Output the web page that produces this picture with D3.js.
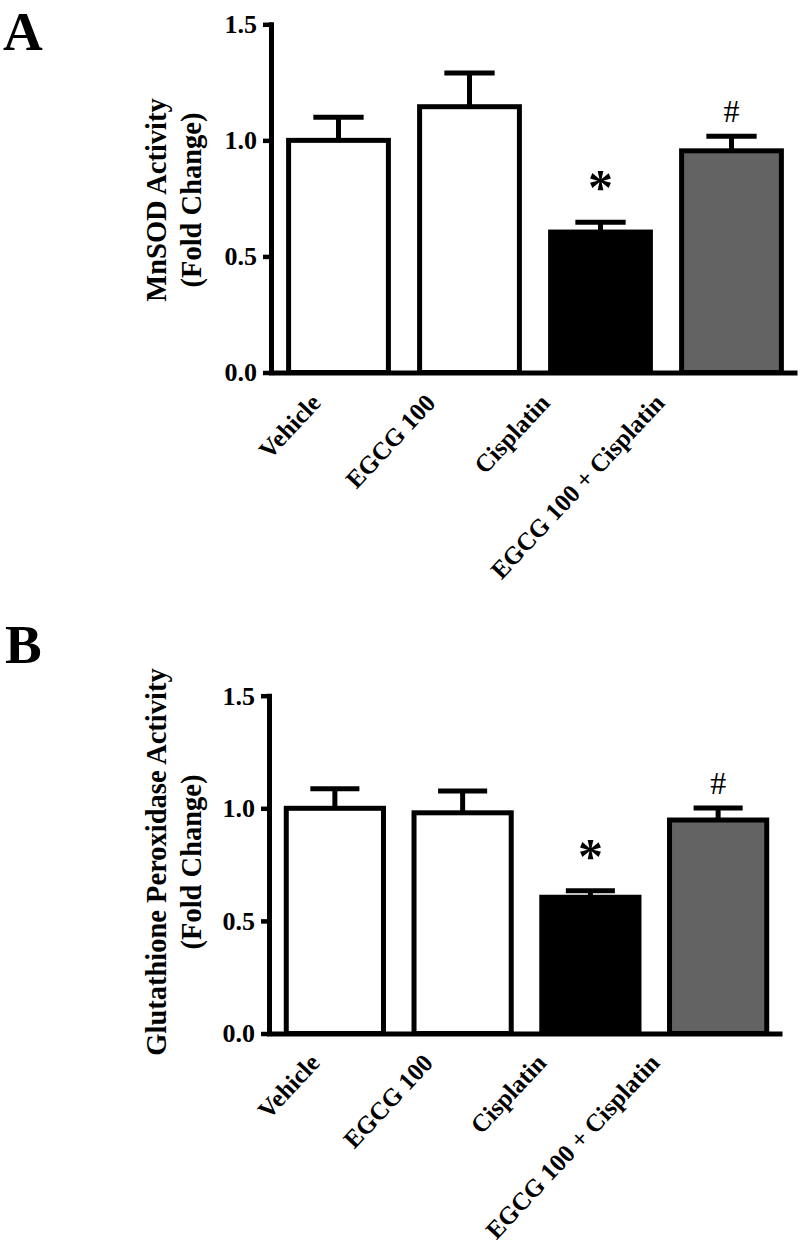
<!DOCTYPE html>
<html>
<head>
<meta charset="utf-8">
<script src="https://cdn.jsdelivr.net/npm/d3@7"></script>
<style>
  body { margin: 0; background: #fff; }
  text { font-family: "Liberation Serif", "Times New Roman", Times, serif; }
</style>
</head>
<body>
<div id="chart"></div>
<script>
// groups and values
var groups = ["Vehicle", "EGCG 100", "Cisplatin", "EGCG 100 + Cisplatin"];
var fills = ["#ffffff", "#ffffff", "#000000", "#636363"];
var marks = ["", "", "*", "#"];

var mnsodMean = [1.00, 1.145, 0.605, 0.955];
var mnsodSem  = [0.10, 0.145, 0.042, 0.063];

var gpxMean = [1.00, 0.98, 0.605, 0.948];
var gpxSem  = [0.087, 0.097, 0.029, 0.053];

var yTicks = [0, 0.5, 1.0, 1.5];

var svg = d3.select("#chart").append("svg")
    .attr("width", 800)
    .attr("height", 1243);

svg.append("rect").attr("width", 800).attr("height", 1243).attr("fill", "#fff");

function drawPanel(p) {
  var g = svg.append("g");

  var y = d3.scaleLinear().domain([0, 1.5]).range([p.bottom, p.top]);
  var x = d3.scaleBand().domain(groups)
      .range([p.axisX + 2, p.axisEnd])
      .paddingInner(0.2)
      .paddingOuter(0.1);
  var lx = d3.scalePoint().domain(groups).range(p.labelRange);

  var rows = groups.map(function(d, i) {
    return {name: d, mean: p.mean[i], sem: p.sem[i], fill: fills[i], mark: marks[i]};
  });

  // panel letter
  g.append("text")
      .attr("x", p.letterX)
      .attr("y", p.letterY)
      .attr("font-size", 55)
      .attr("font-weight", "bold")
      .text(p.letter);

  // bars
  g.selectAll(".bar")
    .data(rows)
    .enter().append("rect")
      .attr("class", "bar")
      .attr("x", function(d) { return x(d.name) + 2.5; })
      .attr("width", x.bandwidth() - 5)
      .attr("y", function(d) { return y(d.mean); })
      .attr("height", function(d) { return y(0) - y(d.mean); })
      .attr("fill", function(d) { return d.fill; })
      .attr("stroke", "#000")
      .attr("stroke-width", 5);

  // error bars (upper only)
  var cap = x.bandwidth() * 0.24;
  g.selectAll(".stem")
    .data(rows)
    .enter().append("line")
      .attr("x1", function(d) { return x(d.name) + x.bandwidth() / 2; })
      .attr("x2", function(d) { return x(d.name) + x.bandwidth() / 2; })
      .attr("y1", function(d) { return y(d.mean); })
      .attr("y2", function(d) { return y(d.mean + d.sem); })
      .attr("stroke", "#000")
      .attr("stroke-width", 5);
  g.selectAll(".cap")
    .data(rows)
    .enter().append("line")
      .attr("x1", function(d) { return x(d.name) + x.bandwidth() / 2 - cap; })
      .attr("x2", function(d) { return x(d.name) + x.bandwidth() / 2 + cap; })
      .attr("y1", function(d) { return y(d.mean + d.sem); })
      .attr("y2", function(d) { return y(d.mean + d.sem); })
      .attr("stroke", "#000")
      .attr("stroke-width", 5);

  // significance marks
  g.selectAll(".mark")
    .data(rows.filter(function(d) { return d.mark; }))
    .enter().append("text")
      .attr("x", function(d) { return x(d.name) + x.bandwidth() / 2; })
      .attr("y", function(d) {
        return y(d.mean + d.sem) - (d.mark === "*" ? 18 : 14);
      })
      .attr("text-anchor", "middle")
      .attr("font-size", function(d) { return d.mark === "*" ? 50 : 32; })
      .attr("font-weight", function(d) { return d.mark === "*" ? "bold" : "normal"; })
      .text(function(d) { return d.mark; });

  // x axis line
  var xAxis = g.append("g")
      .attr("transform", "translate(0," + y(0) + ")")
      .call(d3.axisBottom(x).tickSize(0).tickSizeOuter(0).tickFormat(""));
  xAxis.select(".domain").attr("stroke", "#000").attr("stroke-width", 5);

  // y axis
  var yAxis = g.append("g")
      .attr("transform", "translate(" + p.axisX + ",0)")
      .call(d3.axisLeft(y).tickValues(yTicks).tickFormat(d3.format(".1f"))
            .tickSize(8).tickSizeOuter(0).tickPadding(6));
  yAxis.select(".domain").attr("stroke", "#000").attr("stroke-width", 5)
      .attr("stroke-linecap", "square");
  yAxis.selectAll(".tick line").attr("stroke", "#000").attr("stroke-width", 4.5);
  yAxis.selectAll(".tick text")
      .attr("font-family", "'Liberation Serif', 'Times New Roman', serif")
      .attr("font-size", 26)
      .attr("font-weight", "bold")
      .attr("fill", "#000");

  // category labels, rotated
  g.selectAll(".cat")
    .data(rows)
    .enter().append("text")
      .attr("class", "cat")
      .attr("transform", function(d) {
        return "translate(" + lx(d.name) + "," + p.labelY + ") rotate(-47)";
      })
      .attr("text-anchor", "end")
      .attr("font-size", 25)
      .attr("font-weight", "bold")
      .text(function(d) { return d.name; });

  // y title, two lines
  p.yTitle.forEach(function(line, i) {
    g.append("text")
        .attr("transform", "translate(" + p.titleX[i] + "," + p.titleMid + ") rotate(-90)")
        .attr("text-anchor", "middle")
        .attr("font-size", 28.5)
        .attr("font-weight", "bold")
        .text(line);
  });
}

drawPanel({
  letter: "A", letterX: 3, letterY: 50,
  top: 24.3, bottom: 372.5, axisX: 271, axisEnd: 797,
  mean: mnsodMean, sem: mnsodSem,
  labelRange: [322, 666], labelY: 404,
  yTitle: ["MnSOD Activity", "(Fold Change)"], titleX: [166, 201], titleMid: 200
});

drawPanel({
  letter: "B", letterX: 5, letterY: 663,
  top: 695.7, bottom: 1033.5, axisX: 269, axisEnd: 782,
  mean: gpxMean, sem: gpxSem,
  labelRange: [321, 661], labelY: 1064,
  yTitle: ["Glutathione Peroxidase Activity", "(Fold Change)"], titleX: [166, 201], titleMid: 862
});
</script>
</body>
</html>
